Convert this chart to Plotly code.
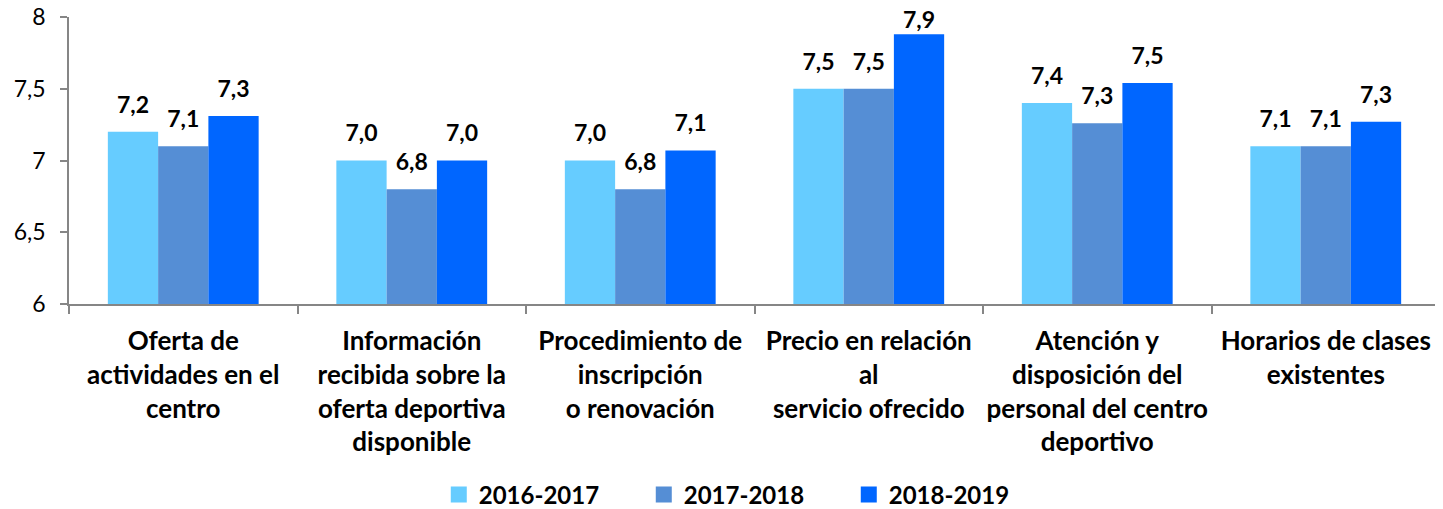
import plotly.graph_objects as go

categories = [
    "Oferta de<br>actividades en el<br>centro",
    "Información<br>recibida sobre la<br>oferta deportiva<br>disponible",
    "Procedimiento de<br>inscripción<br>o renovación",
    "Precio en relación<br>al<br>servicio ofrecido",
    "Atención y<br>disposición del<br>personal del centro<br>deportivo",
    "Horarios de clases<br>existentes",
]
series_names = ["2016-2017", "2017-2018", "2018-2019"]
v_2016_2017 = [7.2, 7.0, 7.0, 7.5, 7.4, 7.1]
v_2017_2018 = [7.1, 6.8, 6.8, 7.5, 7.26, 7.1]
v_2018_2019 = [7.31, 7.0, 7.07, 7.88, 7.54, 7.27]
series_values = [v_2016_2017, v_2017_2018, v_2018_2019]
colors = ["#66CCFF", "#558ED5", "#0066FF"]
y_ticks = [6, 6.5, 7, 7.5, 8]
Y_MIN, Y_MAX = 6, 8

FONT = "Lato, Carlito, Calibri, sans-serif"
BARGAP = 0.34
LABEL_ROOM = 0.25  # axis units a raised label needs below the top of the axis
PAGE_OFFSET = 8    # default body margin of the html page

fig = go.Figure()
for i, (name, vals, col) in enumerate(zip(series_names, series_values, colors)):
    fig.add_trace(go.Bar(
        x=categories, y=vals, name=name, marker=dict(color=col, line=dict(width=0)),
        showlegend=False, hoverinfo="skip", offsetgroup=str(i),
    ))
for i, (name, vals, col) in enumerate(zip(series_names, series_values, colors)):
    labels = [f"{v:.1f}".replace(".", ",") for v in vals]
    # like the original, a label that would leave the plot sits right on its bar
    sizes = [20 if v < Y_MAX - LABEL_ROOM else 0 for v in vals]
    fig.add_trace(go.Scatter(
        x=categories, y=vals, mode="markers+text", text=labels,
        textposition="top center",
        textfont=dict(family=FONT, size=23, color="black", weight="bold"),
        marker=dict(size=sizes, color="rgba(0,0,0,0)", opacity=0, line=dict(width=0)),
        showlegend=False, hoverinfo="skip", cliponaxis=False, offsetgroup=str(i),
    ))
for i, (name, col) in enumerate(zip(series_names, colors)):
    fig.add_trace(go.Scatter(
        x=[None], y=[None], mode="markers", name=name,
        marker=dict(symbol="square", size=16, color=col, line=dict(width=0)),
        showlegend=True, hoverinfo="skip", offsetgroup=str(i),
    ))

fig.update_layout(
    width=1443 - PAGE_OFFSET, height=509 - PAGE_OFFSET,
    margin=dict(l=69 - PAGE_OFFSET, r=3, t=17 - PAGE_OFFSET, b=205, autoexpand=False),
    paper_bgcolor="white", plot_bgcolor="white",
    barmode="group", bargap=BARGAP, bargroupgap=0,
    scattermode="group", scattergap=BARGAP,
    separators=",.",
    font=dict(family=FONT, color="black"),
    legend=dict(
        orientation="h", x=0.494, xanchor="center",
        yref="container", y=0.028, yanchor="middle",
        font=dict(family=FONT, size=24, color="black", weight="bold"),
        entrywidth=160, entrywidthmode="pixels",
    ),
    xaxis=dict(
        type="category", showline=True, linecolor="#868686", linewidth=1.5,
        ticks="outside", tickson="boundaries", ticklen=8, tickcolor="#868686", tickwidth=1.5,
        tickfont=dict(family=FONT, size=26, color="black", weight="bold"), tickangle=0,
        ticklabelstandoff=13, showgrid=False, zeroline=False, automargin=False,
    ),
    yaxis=dict(
        range=[Y_MIN, Y_MAX], tickvals=y_ticks, showline=True, linecolor="#868686", linewidth=1.5,
        ticks="outside", ticklen=7, tickcolor="#868686", tickwidth=1.5,
        tickfont=dict(family=FONT, size=23, color="black"), ticklabeloverflow="allow",
        ticklabelstandoff=10, showgrid=False, zeroline=False, automargin=False,
    ),
)

fig.write_html("out.html")
